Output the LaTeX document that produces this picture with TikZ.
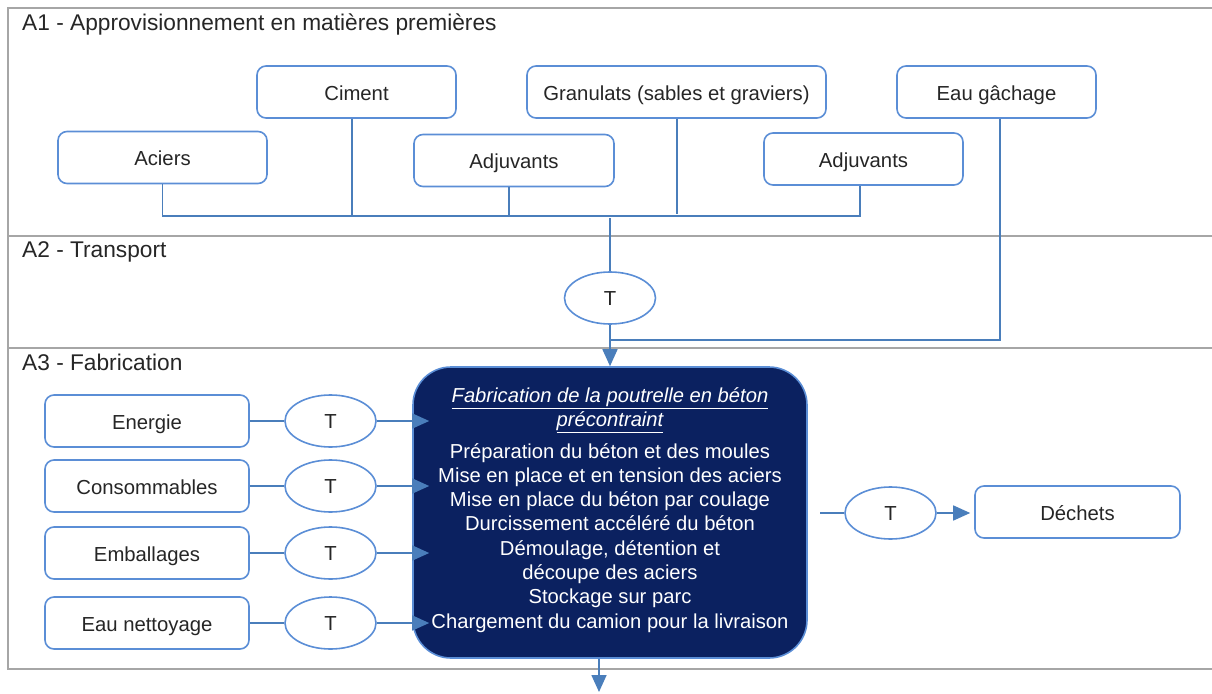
\documentclass[tikz,border=0pt]{standalone}
\usepackage{fontspec}
\setmainfont{Liberation Sans}
\usetikzlibrary{shapes.geometric,arrows.meta}
\definecolor{lineblue}{HTML}{4A7EBB}
\definecolor{boxblue}{HTML}{5B8ED6}
\definecolor{navy}{HTML}{0B2160}
\definecolor{lanegray}{HTML}{A6A6A6}
\definecolor{txt}{HTML}{262626}
\begin{document}
\begin{tikzpicture}[x=1pt,y=-1pt,
  lane/.style={draw=lanegray,line width=2pt},
  lanelabel/.style={anchor=base west,inner sep=0pt,text=txt,font=\fontsize{22.7}{27}\selectfont},
  box/.style={draw=boxblue,line width=1.6pt,rounded corners=9pt,fill=white,text=txt,font=\fontsize{20.3}{24}\selectfont,minimum height=52pt,inner sep=0pt,text height=16.5pt,text depth=0pt},
  tnode/.style={ellipse,draw=boxblue,line width=1.6pt,fill=white,text=txt,font=\fontsize{20.3}{24}\selectfont,minimum width=91pt,minimum height=52pt,inner sep=0pt,text height=15pt,text depth=0pt},
  conn/.style={draw=lineblue,line width=1.6pt},
  arr/.style={conn,-{Triangle[length=17pt,width=15pt]}},
]
\useasboundingbox (0,0) rectangle (1212,693);
% lanes
\draw[lane] (1213,8) -- (8,8) -- (8,669) -- (1213,669);
\draw[lane] (8,236) -- (1213,236);
\draw[lane] (8,348) -- (1213,348);
\node[lanelabel] (l1) at (22,31) {A1 - Approvisionnement en matières premières};
\node[lanelabel] (l2) at (22,257) {A2 - Transport};
\node[lanelabel] (l3) at (22,370) {A3 - Fabrication};
% A1 boxes
\node[box,minimum width=209pt] (aciers) at (162.5,157.5) {Aciers};
\node[box,minimum width=199pt] (ciment) at (356.5,92) {Ciment};
\node[box,minimum width=200pt] (adjA) at (514,160.5) {Adjuvants};
\node[box,minimum width=299pt] (gran) at (676.5,92) {Granulats (sables et graviers)};
\node[box,minimum width=199pt] (adjB) at (863.5,159) {Adjuvants};
\node[box,minimum width=199pt] (eau) at (996.5,92) {Eau gâchage};
\coordinate (busL) at (162,216);
\coordinate (busR) at (860,216);
\draw[conn] (aciers.south) -- (aciers.south |- busL) -- (busR) -- ([xshift=-3.5pt]adjB.south);
\draw[conn] ([xshift=-4.5pt]ciment.south) -- ([xshift=-4.5pt]ciment.south |- busL);
\draw[conn] ([xshift=-5pt]adjA.south) -- ([xshift=-5pt]adjA.south |- busL);
\draw[conn] ([xshift=0.5pt]gran.south) -- ([xshift=0.5pt,yshift=2pt]gran.south |- busL);
% A2 transport
\node[tnode] (t1) at (610,298) {T};
\coordinate (busT) at (610,218);
\draw[conn] (busT) -- (t1.north);
% fabrication box
\node[draw=boxblue,line width=1.6pt,fill=navy,rounded corners=38pt,minimum width=394pt,minimum height=291pt,inner sep=0pt] (fab) at (610,512.5) {};
\node[text=white,align=center,inner sep=0pt,font=\fontsize{20.2}{24.3}\selectfont] (fabtxt) at (610,510) {\textit{\underline{Fabrication de la poutrelle en béton}}\\\textit{\underline{précontraint}}\\[7pt]Préparation du béton et des moules\\Mise en place et en tension des aciers\\Mise en place du béton par coulage\\Durcissement accéléré du béton\\Démoulage, détention et\\découpe des aciers\\Stockage sur parc\\Chargement du camion pour la livraison};
\draw[arr] (t1.south) -- (fab.north);
\coordinate (joinC) at (610,340);
\draw[conn] ([xshift=3.5pt]eau.south) -- ([xshift=3.5pt]eau.south |- joinC) -- (joinC);
% left inputs
\node[box,minimum width=204pt] (energie) at (147,421) {Energie};
\node[box,minimum width=204pt] (conso) at (147,486) {Consommables};
\node[box,minimum width=204pt] (embal) at (147,553) {Emballages};
\node[box,minimum width=204pt] (eaun) at (147,623) {Eau nettoyage};
\node[tnode] (te1) at (330.5,421) {T};
\node[tnode] (te2) at (330.5,486) {T};
\node[tnode] (te3) at (330.5,553) {T};
\node[tnode] (te4) at (330.5,623) {T};
\draw[conn] (energie.east) -- (te1.west);
\draw[conn] (conso.east) -- (te2.west);
\draw[conn] (embal.east) -- (te3.west);
\draw[conn] (eaun.east) -- (te4.west);
\draw[arr] (te1.east) -- ([xshift=17pt]fab.west |- te1.east);
\draw[arr] (te2.east) -- ([xshift=17pt]fab.west |- te2.east);
\draw[arr] (te3.east) -- ([xshift=17pt]fab.west |- te3.east);
\draw[arr] (te4.east) -- ([xshift=17pt]fab.west |- te4.east);
% right output
\node[tnode] (tr) at (890.5,513) {T};
\node[box,minimum width=205pt] (dechets) at (1077.5,512) {Déchets};
\coordinate (fabout) at (820,513);
\draw[conn] (fabout) -- (tr.west);
\draw[arr] (tr.east) -- ([xshift=-4pt]dechets.west |- tr.east);
% bottom output
\coordinate (outC) at (599,692);
\draw[arr] (outC |- fab.south) -- (outC);
\end{tikzpicture}
\end{document}
